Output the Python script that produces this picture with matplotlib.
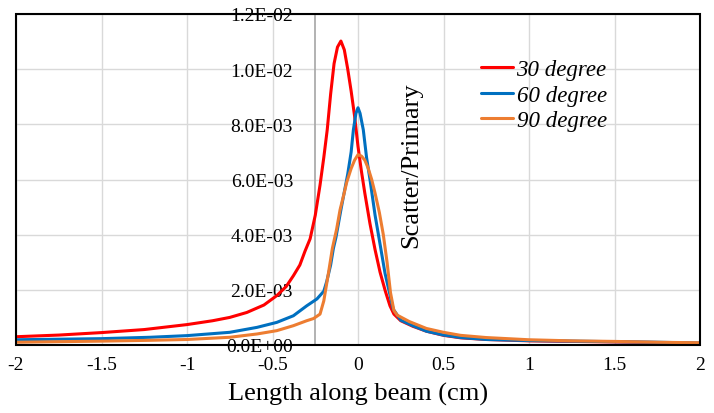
import matplotlib
matplotlib.use("Agg")
import matplotlib.pyplot as plt
from matplotlib.patches import Rectangle
from matplotlib.ticker import FuncFormatter

plt.rcParams['font.family'] = ['Liberation Serif', 'DejaVu Serif']

# ---- data ----
x30 = [-2.0, -1.75, -1.5, -1.25, -1.0, -0.85, -0.75, -0.65, -0.55, -0.475, -0.42, -0.378,
       -0.34, -0.31, -0.28, -0.25, -0.222, -0.2, -0.18, -0.16, -0.14, -0.12, -0.1, -0.08,
       -0.06, -0.04, -0.02, 0.0, 0.02, 0.04, 0.07, 0.1, 0.129, 0.16, 0.187, 0.21, 0.25,
       0.32, 0.4, 0.5, 0.6, 0.75, 1.0, 1.25, 1.5, 1.75, 2.0]
y30 = [0.00030, 0.00036, 0.00045, 0.00056, 0.00074, 0.00088, 0.00100, 0.00118, 0.00145,
       0.00179, 0.00212, 0.00251, 0.00290, 0.00340, 0.00385, 0.00470, 0.00580, 0.00680,
       0.00780, 0.00910, 0.01020, 0.01080, 0.01102, 0.01070, 0.01000, 0.00920, 0.00830,
       0.00720, 0.00630, 0.00550, 0.00440, 0.00345, 0.00264, 0.00195, 0.00142, 0.00112,
       0.00088, 0.00068, 0.00050, 0.00035, 0.00026, 0.00020, 0.00015, 0.00013, 0.00011,
       0.00009, 0.00006]

x60 = [-2.0, -1.5, -1.216, -1.0, -0.75, -0.59, -0.475, -0.378, -0.3, -0.24, -0.2, -0.183,
       -0.16, -0.144, -0.129, -0.1, -0.06, -0.04, -0.027, -0.012, 0.0, 0.012, 0.031, 0.05,
       0.07, 0.1, 0.125, 0.158, 0.206, 0.25, 0.32, 0.4, 0.5, 0.6, 0.75, 1.0, 1.25, 1.5,
       1.75, 2.0]
y60 = [0.00019, 0.00023, 0.00028, 0.00034, 0.00046, 0.00064, 0.00082, 0.00106, 0.00142,
       0.00167, 0.00195, 0.00230, 0.00290, 0.00350, 0.00390, 0.00490, 0.00620, 0.00700,
       0.00780, 0.00840, 0.00860, 0.00840, 0.00780, 0.00680, 0.00600, 0.00470, 0.00380,
       0.00260, 0.00130, 0.00090, 0.00070, 0.00050, 0.00036, 0.00027, 0.00020, 0.00016,
       0.00014, 0.00012, 0.00010, 0.00007]

x90 = [-2.0, -1.5, -1.216, -1.0, -0.75, -0.59, -0.475, -0.378, -0.3, -0.26, -0.222, -0.2,
       -0.173, -0.15, -0.125, -0.105, -0.085, -0.066, -0.04, -0.02, 0.0, 0.02, 0.04, 0.06,
       0.08, 0.1, 0.125, 0.148, 0.17, 0.19, 0.21, 0.23, 0.3, 0.4, 0.5, 0.6, 0.75, 1.0,
       1.25, 1.5, 1.75, 2.0]
y90 = [0.00010, 0.00014, 0.00017, 0.00020, 0.00028, 0.00040, 0.00052, 0.00070, 0.00088,
       0.00096, 0.00112, 0.00160, 0.00260, 0.00350, 0.00420, 0.00490, 0.00540, 0.00590,
       0.00640, 0.00670, 0.00690, 0.00685, 0.00670, 0.00640, 0.00600, 0.00550, 0.00480,
       0.00400, 0.00300, 0.00190, 0.00125, 0.00108, 0.00085, 0.00060, 0.00046, 0.00035,
       0.00027, 0.00019, 0.00015, 0.00013, 0.00010, 0.00008]

labels = ["30 degree", "60 degree", "90 degree"]
colors = ["#FF0000", "#0070C0", "#ED7D31"]
xticks = [-2, -1.5, -1, -0.5, 0, 0.5, 1, 1.5, 2]
yticks = [0.0, 0.002, 0.004, 0.006, 0.008, 0.010, 0.012]

# ---- figure ----
fig = plt.figure(figsize=(7.14, 4.14), dpi=100)
ax = fig.add_axes([16/714, 1 - 346/414, (700-16)/714, (346-15)/414])

for xs, ys, c, lab, z in [(x30, y30, colors[0], labels[0], 3),
                          (x60, y60, colors[1], labels[1], 4),
                          (x90, y90, colors[2], labels[2], 5)]:
    ax.plot(xs, ys, color=c, lw=2.2, label=lab, zorder=z,
            solid_joinstyle="round", solid_capstyle="round")

ax.set_xlim(-2, 2)
ax.set_ylim(0, 0.012)
ax.set_xticks(xticks)
ax.set_yticks(yticks)
ax.xaxis.set_major_formatter(FuncFormatter(lambda v, p: f"{v:g}"))
ax.yaxis.set_major_formatter(FuncFormatter(lambda v, p: f"{v:.1E}"))
ax.grid(True, color="#D9D9D9", lw=1.0, zorder=0)
ax.set_axisbelow(True)

for s in ["top", "right", "bottom"]:
    ax.spines[s].set_visible(False)
ax.spines["left"].set_position(("data", -0.25))
ax.spines["left"].set_color("#A6A6A6")
ax.spines["left"].set_linewidth(1.2)
ax.add_patch(Rectangle((0, 0), 1, 1, transform=ax.transAxes, fill=False,
                       edgecolor="black", lw=1.5, clip_on=False, zorder=6))

ax.tick_params(axis="y", length=0, pad=16, labelsize=14)
ax.tick_params(axis="x", length=0, pad=8, labelsize=14)
for t in ax.get_yticklabels():
    t.set_zorder(7)

ax.set_xlabel("Length along beam (cm)", fontsize=19, labelpad=6)
ax.text(0.31, 0.00656, "Scatter/Primary", rotation=90, fontsize=19,
        ha="center", va="center", zorder=7)

leg = ax.legend(loc="center left", bbox_to_anchor=(481/714, 1 - 96/414),
                bbox_transform=fig.transFigure, frameon=False,
                prop={"style": "italic", "size": 16.5}, handlelength=1.4,
                handletextpad=0.15, labelspacing=0.2, borderpad=0, borderaxespad=0)

fig.savefig("out.png", dpi=100)
